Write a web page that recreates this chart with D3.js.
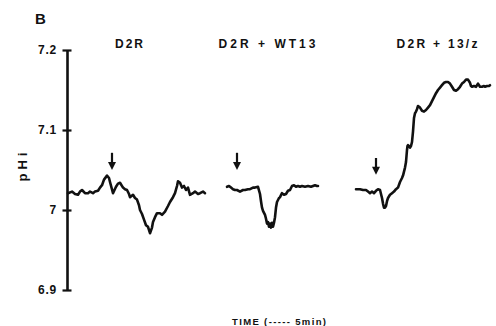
<!DOCTYPE html>
<html>
<head>
<meta charset="utf-8">
<script src="https://cdn.jsdelivr.net/npm/d3@7"></script>
<style>
  html, body { margin: 0; padding: 0; background: #fff; }
  text { font-family: "Liberation Sans", Arial, Helvetica, sans-serif; font-weight: bold; fill: #111; }
</style>
</head>
<body>
<svg id="chart" width="496" height="326"></svg>
<script>
// ---- data ----
const panelLabel = "B";
const yLabel = "pHi";
const xLabel = "TIME (----- 5min)";
const yTicks = [6.9, 7.0, 7.1, 7.2];
const yTickLabels = ["6.9", "7", "7.1", "7.2"];
const conditions = ["D2R", "D2R + WT13", "D2R + 13/z"];
const conditionCenters = [61, 199, 369]; // time units (title centres)

// time (arbitrary units) , pHi
const traceD2R = [[0,7.021],[4,7.023],[7,7.020],[10,7.019],[12,7.023],[14,7.025],[17,7.021],[20,7.021],[22,7.023],[25,7.021],[27,7.023],[30,7.024],[32,7.028],[34,7.031],[36,7.038],[39,7.043],[41,7.040],[42,7.035],[45,7.021],[48,7.029],[50,7.033],[52,7.034],[55,7.028],[57,7.026],[59,7.025],[61,7.020],[62,7.016],[65,7.019],[67,7.015],[69,7.013],[71,7.006],[72,7.000],[74,6.995],[76,6.988],[78,6.981],[80,6.979],[82,6.971],[84,6.978],[85,6.985],[87,6.991],[89,6.996],[92,6.996],[94,6.994],[97,6.998],[100,7.005],[102,7.010],[105,7.016],[107,7.021],[109,7.030],[110,7.036],[112,7.034],[114,7.028],[116,7.030],[118,7.025],[120,7.028],[122,7.019],[125,7.021],[127,7.023],[130,7.020],[132,7.021],[135,7.023],[137,7.021]];

const traceWT13 = [[159,7.029],[161,7.030],[163,7.028],[165,7.026],[167,7.025],[169,7.025],[172,7.023],[175,7.025],[177,7.025],[180,7.026],[182,7.026],[185,7.028],[187,7.028],[190,7.029],[192,7.020],[193,7.011],[194,7.003],[195,6.999],[197,6.994],[198,6.989],[199,6.983],[200,6.985],[201,6.979],[202,6.983],[203,6.978],[204,6.984],[205,6.979],[206,6.984],[207,6.991],[208,7.003],[209,7.010],[211,7.015],[212,7.016],[214,7.021],[216,7.019],[218,7.020],[220,7.024],[222,7.025],[224,7.030],[226,7.031],[228,7.029],[230,7.030],[232,7.029],[234,7.030],[237,7.029],[240,7.030],[243,7.029],[245,7.030],[247,7.031],[249,7.030],[250,7.030]];

const trace13z = [[288,7.026],[292,7.026],[295,7.025],[298,7.025],[300,7.023],[302,7.021],[304,7.023],[306,7.021],[308,7.024],[310,7.026],[312,7.025],[313,7.020],[314,7.015],[315,7.008],[316,7.003],[317,7.003],[318,7.005],[319,7.011],[320,7.015],[322,7.019],[324,7.021],[326,7.023],[328,7.026],[330,7.028],[332,7.035],[334,7.040],[335,7.043],[336,7.048],[337,7.053],[338,7.060],[339,7.075],[339.5,7.080],[340,7.081],[341,7.080],[342,7.078],[343,7.080],[344,7.085],[345,7.098],[346,7.115],[347,7.121],[348,7.123],[349,7.126],[350,7.130],[351,7.129],[352,7.128],[354,7.124],[356,7.123],[358,7.125],[360,7.128],[362,7.131],[364,7.136],[366,7.141],[368,7.146],[370,7.150],[372,7.153],[374,7.156],[376,7.159],[378,7.160],[380,7.160],[382,7.158],[384,7.154],[386,7.150],[388,7.149],[390,7.151],[392,7.154],[394,7.158],[396,7.160],[398,7.163],[400,7.163],[402,7.159],[403,7.155],[404,7.154],[406,7.155],[408,7.154],[409,7.156],[410,7.158],[412,7.154],[414,7.154],[416,7.155],[417,7.154],[419,7.155],[421,7.155],[422,7.156]];

const arrowTimes = [44, 169, 308];
const arrowTopPH = [7.0715, 7.0715, 7.065];
const arrowTipPH = [7.050, 7.050, 7.044];

// ---- drawing ----
const svg = d3.select("#chart");
svg.append("rect").attr("width", 496).attr("height", 326).attr("fill", "#fff");

const x = d3.scaleLinear().domain([0, 430]).range([68, 498]);
const y = d3.scaleLinear().domain([6.9, 7.2]).range([290, 50]);

// y axis
const yAxis = d3.axisLeft(y)
  .tickValues(yTicks)
  .tickFormat((d, i) => yTickLabels[i])
  .tickSizeInner(4).tickSizeOuter(0).tickPadding(6);
const gAxis = svg.append("g").attr("transform", "translate(67,0)").call(yAxis);
gAxis.select(".domain").attr("stroke", "#111").attr("stroke-width", 2.6);
gAxis.selectAll(".tick line").attr("x1", -4.5).attr("x2", 4.5).attr("stroke", "#111").attr("stroke-width", 2.2);
gAxis.selectAll(".tick text")
  .attr("x", -10)
  .style("font-size", "12px").style("font-weight", "bold")
  .style("font-family", "'Liberation Sans', Arial, sans-serif")
  .style("letter-spacing", "0.8px").attr("fill", "#111");

// traces
const line = d3.line().x(d => x(d[0])).y(d => y(d[1]));
[traceD2R, traceWT13, trace13z].forEach(tr => {
  svg.append("path").datum(tr).attr("d", line)
    .attr("fill", "none").attr("stroke", "#111")
    .attr("stroke-width", 2.6).attr("stroke-linejoin", "round").attr("stroke-linecap", "round");
});

// arrows
arrowTimes.forEach((t, i) => {
  const xa = x(t), yt = y(arrowTopPH[i]), yb = y(arrowTipPH[i]);
  svg.append("line").attr("x1", xa).attr("x2", xa).attr("y1", yt).attr("y2", yb - 6)
    .attr("stroke", "#111").attr("stroke-width", 2.2);
  svg.append("path")
    .attr("d", `M${xa - 4},${yb - 8} L${xa + 4},${yb - 8} L${xa},${yb} Z`)
    .attr("fill", "#111");
});

// condition titles
const titleWidths = [28, 97, 81];
conditions.forEach((c, i) => {
  svg.append("text").attr("x", x(conditionCenters[i]) - titleWidths[i] / 2).attr("y", 48)
    .attr("textLength", titleWidths[i]).attr("lengthAdjust", "spacing")
    .style("font-size", "12px").text(c);
});

// panel letter
svg.append("text").attr("x", 35).attr("y", 24).style("font-size", "15px").text(panelLabel);

// y label
svg.append("text").attr("transform", "translate(27,167) rotate(-90)")
  .attr("text-anchor", "middle").attr("textLength", 29).attr("lengthAdjust", "spacing")
  .style("font-size", "13px").text(yLabel);

// x label
svg.append("text").attr("x", 232).attr("y", 325)
  .attr("textLength", 94).attr("lengthAdjust", "spacing")
  .style("font-size", "9.5px").text(xLabel);
</script>
</body>
</html>
